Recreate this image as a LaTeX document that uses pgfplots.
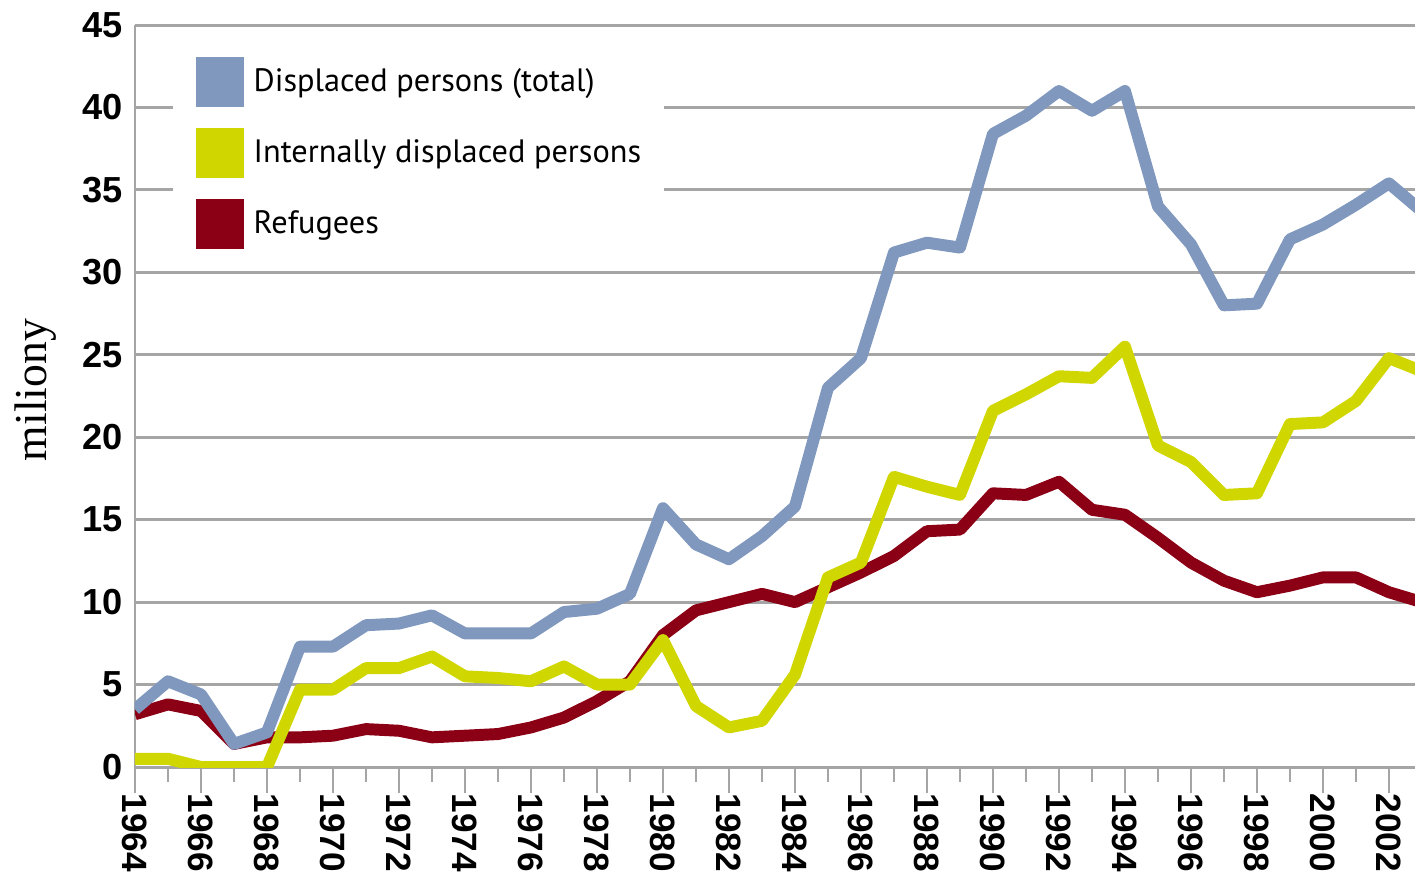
\documentclass[border=0pt]{standalone}
\usepackage{fontspec}
\setmainfont{Liberation Sans}
\newfontfamily\serifA{Liberation Serif}
\newfontfamily\legfont{PT Sans}
\usepackage{pgfplots}
\pgfplotsset{compat=1.18}
\definecolor{cblue}{RGB}{128,152,190}
\definecolor{cyel}{RGB}{208,214,0}
\definecolor{cred}{RGB}{140,0,22}
\definecolor{cgrid}{RGB}{165,165,165}

\pgfplotstableread{
year total idp ref
1964 3.5 0.5 3.2
1965 5.2 0.5 3.8
1966 4.4 0.0 3.4
1967 1.4 0.0 1.4
1968 2.1 0.0 1.8
1969 7.3 4.7 1.8
1970 7.3 4.7 1.9
1971 8.6 6.0 2.3
1972 8.7 6.0 2.2
1973 9.2 6.7 1.8
1974 8.1 5.5 1.9
1975 8.1 5.4 2.0
1976 8.1 5.2 2.4
1977 9.4 6.1 3.0
1978 9.6 5.0 4.0
1979 10.5 5.0 5.2
1980 15.7 7.7 8.0
1981 13.5 3.7 9.5
1982 12.6 2.4 10.0
1983 14.0 2.8 10.5
1984 15.8 5.6 10.0
1985 23.0 11.5 10.9
1986 24.8 12.4 11.8
1987 31.2 17.6 12.8
1988 31.8 17.0 14.3
1989 31.5 16.5 14.4
1990 38.4 21.6 16.6
1991 39.5 22.6 16.5
1992 41.0 23.7 17.3
1993 39.8 23.6 15.6
1994 41.0 25.5 15.3
1995 34.0 19.5 13.9
1996 31.7 18.5 12.4
1997 28.0 16.5 11.3
1998 28.1 16.6 10.6
1999 32.0 20.8 11.0
2000 32.9 20.9 11.5
2001 34.1 22.2 11.5
2002 35.4 24.8 10.6
2003 33.7 24.0 10.0
}\datatable

\begin{document}
\begin{tikzpicture}
\begin{axis}[
  scale only axis, width=128mm, height=74.2mm,
  xmin=1964, xmax=2002.79, ymin=0, ymax=45,
  axis x line*=bottom, axis y line*=left,
  axis line style={cgrid, line width=0.85pt, -},
  ytick={0,5,...,45},
  ymajorgrids, grid style={cgrid, line width=0.85pt},
  ytick style={draw=none},
  xtick={1964,1966,...,2002},
  minor xtick={1965,1967,...,2003},
  tick align=outside,
  xtick style={cgrid, line width=0.8pt},
  major tick length=2.6mm, minor tick length=1.5mm,
  /pgf/number format/assume math mode=true,
  xticklabel={\pgfmathprintnumber[set thousands separator={}]{\tick}},
  xticklabel style={rotate=-90, anchor=west, font=\bfseries\fontsize{10}{12}\selectfont, inner sep=0pt},
  yticklabel style={font=\bfseries\fontsize{10.3}{12}\selectfont, anchor=east, inner sep=0pt, xshift=1.4mm},
  ylabel={miliony},
  ylabel style={font=\serifA\fontsize{13}{15}\selectfont, at={(axis description cs:-0.078,0.508)}, anchor=center},
  legend style={at={(rel axis cs:0.0289,0.9825)}, anchor=north west, draw=none, fill=white,
    inner xsep=2.3mm, inner ysep=0.8mm, font=\legfont\fontsize{9.2}{11}\selectfont,
    column sep=1mm, nodes={inner sep=0pt, minimum height=7.1mm}},
  legend cell align=left,
  legend image code/.code={\fill[#1, draw=none] (0mm,-2.5mm) rectangle (4.8mm,2.5mm);},
  reverse legend,
  every axis plot/.append style={line width=3.4pt, line join=round},
]
\addplot[cred] table[x=year, y=ref] {\datatable};
\addlegendentry{Refugees}
\addplot[cyel] table[x=year, y=idp] {\datatable};
\addlegendentry{Internally displaced persons}
\addplot[cblue] table[x=year, y=total] {\datatable};
\addlegendentry{Displaced persons (total)}
\end{axis}
\pgfresetboundingbox
\path[use as bounding box] (current axis.south west) ++(-13.5mm,-11.2mm) rectangle ++(141.5mm,87.9mm);
\end{tikzpicture}
\end{document}
